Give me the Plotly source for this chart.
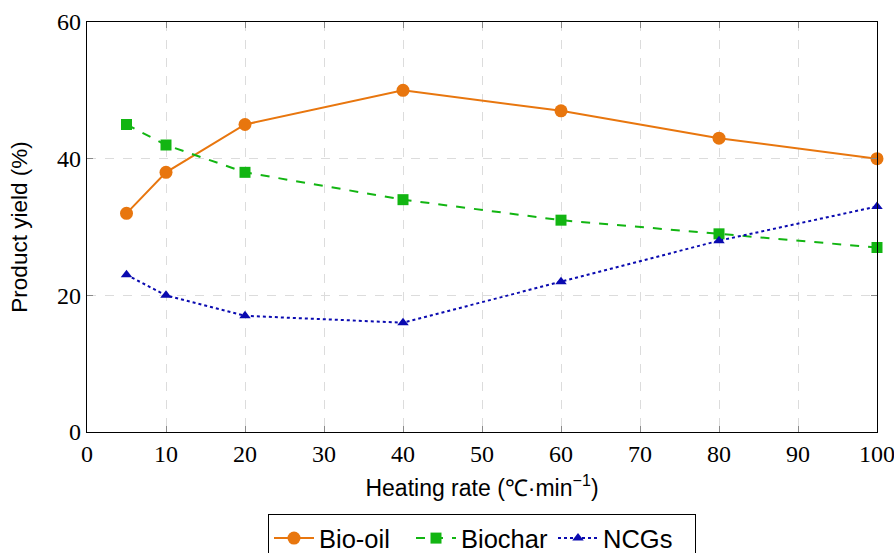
import plotly.graph_objects as go

# Heating rate (°C/min) and product yields (%)
heating_rate = [5, 10, 20, 40, 60, 80, 100]
bio_oil = [32, 38, 45, 50, 47, 43, 40]
biochar = [45, 42, 38, 34, 31, 29, 27]
ncgs = [23, 20, 17, 16, 22, 28, 33]

x_ticks = [0, 10, 20, 30, 40, 50, 60, 70, 80, 90, 100]
y_ticks = [0, 20, 40, 60]

fig = go.Figure()
fig.add_trace(go.Scatter(
    x=heating_rate, y=bio_oil, name="Bio-oil", mode="lines+markers",
    line=dict(color="#E8760E", width=2),
    marker=dict(symbol="circle", size=13, color="#E8760E"),
    cliponaxis=False,
))
fig.add_trace(go.Scatter(
    x=heating_rate, y=biochar, name="Biochar", mode="lines+markers",
    line=dict(color="#12B512", width=2, dash="dash"),
    marker=dict(symbol="square", size=11, color="#12B512"),
    cliponaxis=False,
))
fig.add_trace(go.Scatter(
    x=heating_rate, y=ncgs, name="NCGs", mode="lines+markers",
    line=dict(color="#0A0AB0", width=2, dash="dot"),
    marker=dict(symbol="triangle-up", size=10, color="#0A0AB0"),
    cliponaxis=False,
))

axis_common = dict(
    showline=True, linecolor="black", linewidth=1.3, mirror="ticks",
    ticks="inside", ticklen=6, tickwidth=1.2, tickcolor="#8a8a8a",
    showgrid=True, gridcolor="#DCDCDC", gridwidth=1.2, griddash="dash",
    zeroline=False, automargin=False, ticklabeloverflow="allow",
    tickfont=dict(family="Liberation Serif, serif", size=24, color="black"),
)

fig.update_xaxes(
    range=[0, 100], tickvals=x_ticks,
    title=dict(text="Heating rate (℃·min<sup>−1</sup>)",
               font=dict(family="Liberation Sans, Arial, sans-serif", size=23, color="black"),
               standoff=13),
    **axis_common,
)
fig.update_yaxes(
    range=[0, 60], tickvals=y_ticks,
    title=dict(text="Product yield (%)",
               font=dict(family="Liberation Sans, Arial, sans-serif", size=22.5, color="black"),
               standoff=23),
    **axis_common,
)

fig.update_layout(
    width=894, height=553,
    margin=dict(l=87, r=17, t=22, b=121),
    paper_bgcolor="white", plot_bgcolor="white",
    showlegend=True,
    legend=dict(
        orientation="h", x=0.5, xanchor="center",
        yref="container", y=0.0705, yanchor="top",
        font=dict(family="Liberation Sans, Arial, sans-serif", size=25.5, color="black"),
        bordercolor="black", borderwidth=1, bgcolor="white",
        itemwidth=40, tracegroupgap=0,
        entrywidthmode="pixels", entrywidth=87,
    ),
)

fig.write_html("out.html")
